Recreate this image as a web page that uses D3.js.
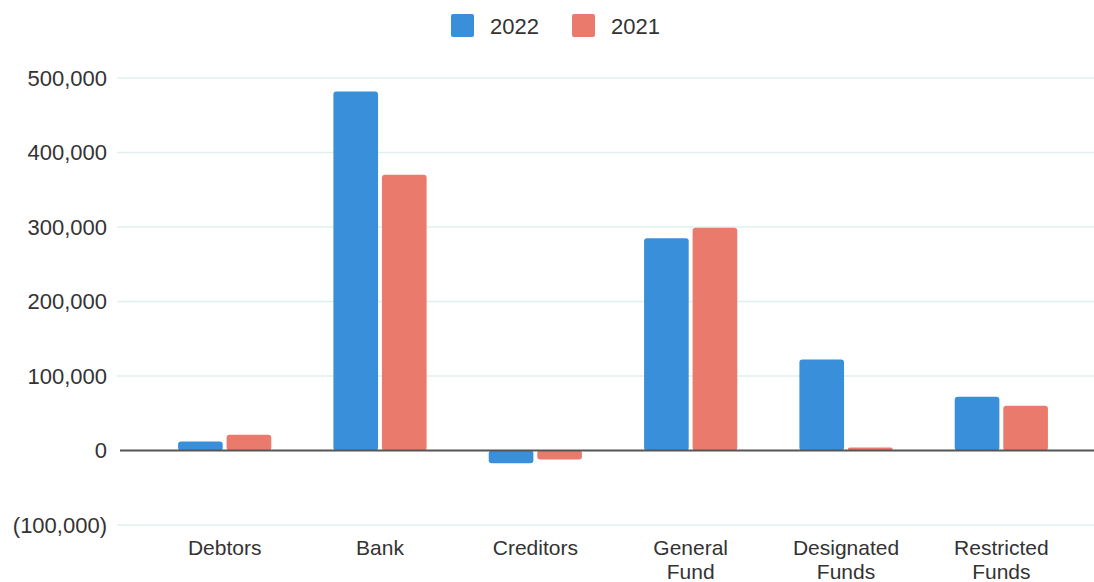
<!DOCTYPE html>
<html>
<head>
<meta charset="utf-8">
<script src="https://cdn.jsdelivr.net/npm/d3@7"></script>
<style>
  body { margin: 0; background: #fff; }
  svg { font-family: "Liberation Sans", Arial, sans-serif; }
</style>
</head>
<body>
<svg id="chart" width="1094" height="582"></svg>
<script>
const categories = [["Debtors"], ["Bank"], ["Creditors"], ["General", "Fund"], ["Designated", "Funds"], ["Restricted", "Funds"]];
const series = ["2022", "2021"];
const values2022 = [12000, 482000, -17000, 285000, 122000, 72000];
const values2021 = [21000, 370000, -12000, 299000, 4000, 60000];
const yTicks = [-100000, 0, 100000, 200000, 300000, 400000, 500000];
const colors = ["#3a8fdb", "#ea7a6c"];

const svg = d3.select("#chart");
const width = 1094;

const x = d3.scaleBand()
  .domain(categories.map(c => c.join(" ")))
  .range([147, 1079])
  .paddingInner(0.4)
  .paddingOuter(0.2);

const x1 = d3.scaleBand()
  .domain(series)
  .range([0, x.bandwidth()])
  .paddingInner(0.08);

const y = d3.scaleLinear()
  .domain([-100000, 500000])
  .range([525, 78]);

const fmt = d3.format(",");
const tickText = v => v < 0 ? "(" + fmt(-v) + ")" : fmt(v);

// gridlines
svg.append("g")
  .selectAll("line")
  .data(yTicks.filter(v => v !== 0))
  .join("line")
  .attr("x1", 117).attr("x2", width)
  .attr("y1", d => y(d)).attr("y2", d => y(d))
  .attr("stroke", "#dff0ee")
  .attr("stroke-width", 1.5);

// y labels
svg.append("g")
  .selectAll("text")
  .data(yTicks)
  .join("text")
  .attr("x", 107)
  .attr("y", d => y(d))
  .attr("dy", "0.35em")
  .attr("text-anchor", "end")
  .attr("font-size", 22)
  .attr("fill", "#333")
  .text(tickText);

// bars
const groups = svg.append("g")
  .selectAll("g")
  .data(categories.map((c, i) => ({ key: c.join(" "), vals: [values2022[i], values2021[i]] })))
  .join("g")
  .attr("transform", d => `translate(${x(d.key)},0)`);

groups.selectAll("rect")
  .data(d => d.vals.map((v, j) => ({ s: series[j], v: v, j: j })))
  .join("rect")
  .attr("x", d => x1(d.s))
  .attr("width", x1.bandwidth())
  .attr("y", d => Math.min(y(d.v), y(0)))
  .attr("height", d => Math.max(2, Math.abs(y(d.v) - y(0))))
  .attr("rx", 3)
  .attr("fill", d => colors[d.j]);

// zero line
svg.append("line")
  .attr("x1", 120).attr("x2", width)
  .attr("y1", y(0)).attr("y2", y(0))
  .attr("stroke", "#555")
  .attr("stroke-width", 2);

// x labels
const xl = svg.append("g")
  .selectAll("text")
  .data(categories)
  .join("text")
  .attr("x", d => x(d.join(" ")) + x.bandwidth() / 2)
  .attr("y", 555)
  .attr("text-anchor", "middle")
  .attr("font-size", 21)
  .attr("fill", "#333");
xl.selectAll("tspan")
  .data(d => d)
  .join("tspan")
  .attr("x", function() { return d3.select(this.parentNode).attr("x"); })
  .attr("dy", (d, i) => i === 0 ? 0 : 24)
  .text(d => d);

// legend
const legend = svg.append("g");
const legX = [451, 572];
series.forEach((s, i) => {
  legend.append("rect")
    .attr("x", legX[i]).attr("y", 14)
    .attr("width", 23).attr("height", 23)
    .attr("rx", 2)
    .attr("fill", colors[i]);
  legend.append("text")
    .attr("x", legX[i] + 39).attr("y", 26)
    .attr("dy", "0.35em")
    .attr("font-size", 22)
    .attr("fill", "#333")
    .text(s);
});
</script>
</body>
</html>
